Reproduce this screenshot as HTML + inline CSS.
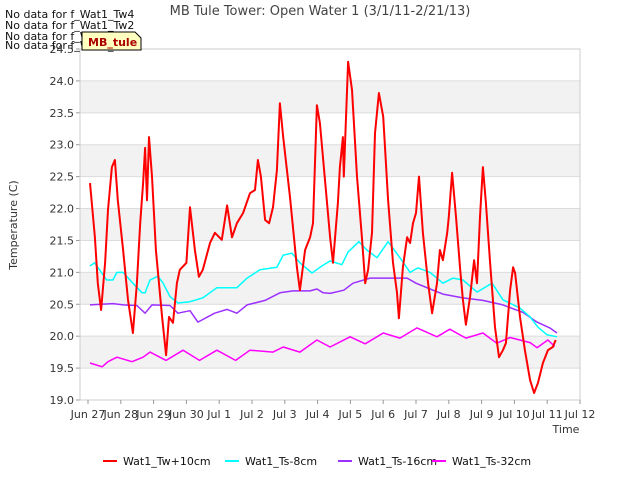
<!DOCTYPE html>
<html><head><meta charset="utf-8"><style>
body{margin:0;background:#fff;font-family:"Liberation Sans",sans-serif}
svg text{font-family:"DejaVu Sans","Liberation Sans",sans-serif}
</style></head><body>
<svg id="c" width="640" height="480" viewBox="0 0 640 480" xmlns="http://www.w3.org/2000/svg">
<g id="bands"></g><g id="grid"></g><g id="series"></g><g id="axes"></g>
<text x="320" y="15" text-anchor="middle" font-size="13" fill="#444">MB Tule Tower: Open Water 1 (3/1/11-2/21/13)</text>
<text x="566" y="433" text-anchor="middle" font-size="11" fill="#333">Time</text>
<text transform="translate(17,225) rotate(-90)" text-anchor="middle" font-size="11" fill="#333">Temperature (C)</text>
<g font-size="11" fill="#111">
<text x="5" y="18">No data for f_Wat1_Tw4</text>
<text x="5" y="29">No data for f_Wat1_Tw2</text>
<text x="5" y="40">No data for f_Wat1_Ts2</text>
<text x="5" y="49">No data for f_Wat1_Ts4</text>
</g>
<g>
<path d="M82,32 L135,32 L141,38 L141,50 L82,50 Z" fill="#ffffc0" stroke="#000" stroke-width="1"/>
<text x="88" y="46" font-size="11" font-weight="bold" fill="#aa0000">MB_tule</text>
</g>
<g id="legend" font-size="11" fill="#111"></g>
</svg>
<script>
const xTickLabels=["Jun 27","Jun 28","Jun 29","Jun 30","Jul 1","Jul 2","Jul 3","Jul 4","Jul 5","Jul 6","Jul 7","Jul 8","Jul 9","Jul 10","Jul 11","Jul 12"];
const yTicks=[19.0,19.5,20.0,20.5,21.0,21.5,22.0,22.5,23.0,23.5,24.0,24.5];
const seriesNames=["Wat1_Tw+10cm","Wat1_Ts-8cm","Wat1_Ts-16cm","Wat1_Ts-32cm"];
const twDays=[0.06,0.21,0.3,0.4,0.52,0.61,0.73,0.82,0.91,1.07,1.22,1.37,1.49,1.59,1.68,1.74,1.8,1.86,1.95,2.07,2.26,2.38,2.47,2.59,2.71,2.8,3.0,3.11,3.26,3.38,3.5,3.72,3.87,4.08,4.24,4.39,4.54,4.73,4.94,5.09,5.18,5.27,5.4,5.52,5.64,5.76,5.85,5.95,6.16,6.37,6.46,6.62,6.77,6.86,6.98,7.07,7.38,7.47,7.62,7.68,7.77,7.8,7.93,8.05,8.2,8.35,8.45,8.54,8.66,8.75,8.87,9.0,9.15,9.3,9.42,9.48,9.6,9.73,9.82,9.91,10.0,10.09,10.21,10.37,10.49,10.64,10.73,10.82,10.95,11.0,11.1,11.22,11.34,11.43,11.52,11.65,11.77,11.86,11.95,12.04,12.13,12.26,12.41,12.53,12.65,12.74,12.87,12.96,13.02,13.17,13.32,13.48,13.6,13.72,13.87,14.02,14.17,14.26];
const twVals=[22.4,21.55,20.83,20.41,21.15,21.98,22.65,22.76,22.13,21.35,20.57,20.05,20.83,21.77,22.4,22.95,22.13,23.12,22.5,21.35,20.3,19.7,20.3,20.21,20.83,21.04,21.15,22.02,21.35,20.93,21.04,21.46,21.62,21.51,22.05,21.55,21.77,21.93,22.24,22.29,22.76,22.5,21.82,21.77,22.02,22.6,23.65,23.12,22.18,21.08,20.72,21.35,21.55,21.77,23.62,23.34,21.55,21.15,22.09,22.65,23.12,22.5,24.3,23.86,22.5,21.55,20.83,21.04,21.62,23.18,23.81,23.44,22.13,21.15,20.68,20.28,21.08,21.55,21.46,21.77,21.93,22.5,21.62,20.83,20.36,20.83,21.35,21.19,21.62,21.87,22.56,21.87,21.08,20.57,20.18,20.62,21.19,20.83,21.87,22.65,22.09,21.15,20.14,19.67,19.78,19.89,20.72,21.08,20.99,20.3,19.78,19.31,19.11,19.27,19.58,19.78,19.83,19.94];
const s8Days=[0.06,0.2,0.57,0.76,0.88,1.07,1.37,1.65,1.74,1.89,2.13,2.29,2.5,2.74,3.11,3.5,3.93,4.24,4.54,4.85,5.24,5.76,5.95,6.22,6.46,6.83,7.07,7.38,7.74,7.93,8.26,8.5,8.81,9.15,9.51,9.82,10.06,10.43,10.82,11.13,11.43,11.86,12.32,12.65,13.17,13.48,13.72,14.0,14.3];
const s8Vals=[21.1,21.15,20.88,20.88,21.0,21.0,20.83,20.68,20.68,20.88,20.94,20.83,20.62,20.52,20.54,20.6,20.76,20.76,20.76,20.91,21.04,21.08,21.27,21.3,21.15,20.99,21.08,21.18,21.12,21.32,21.48,21.35,21.23,21.48,21.23,21.0,21.07,21.0,20.83,20.91,20.88,20.69,20.83,20.57,20.44,20.3,20.14,20.02,19.99];
const s16Days=[0.06,0.76,1.07,1.49,1.74,1.95,2.5,2.74,3.11,3.35,3.86,4.24,4.54,4.85,5.4,5.85,6.25,6.77,6.98,7.17,7.38,7.8,8.08,8.6,9.3,9.73,10.0,10.43,10.82,11.43,12.04,12.65,13.27,13.69,14.08,14.3];
const s16Vals=[20.49,20.51,20.49,20.48,20.36,20.49,20.48,20.36,20.4,20.22,20.36,20.42,20.36,20.49,20.56,20.68,20.71,20.71,20.74,20.68,20.67,20.72,20.83,20.91,20.91,20.91,20.83,20.74,20.66,20.6,20.56,20.49,20.37,20.22,20.13,20.05];
const s32Days=[0.06,0.43,0.61,0.88,1.34,1.68,1.89,2.38,2.9,3.4,3.93,4.5,4.94,5.64,5.95,6.46,6.98,7.38,7.99,8.45,9.0,9.51,10.03,10.64,11.03,11.52,12.04,12.46,12.87,13.48,13.69,14.02,14.23];
const s32Vals=[19.58,19.52,19.6,19.67,19.6,19.67,19.75,19.62,19.78,19.62,19.78,19.62,19.78,19.75,19.83,19.75,19.94,19.83,19.99,19.88,20.05,19.97,20.13,19.99,20.11,19.97,20.05,19.89,19.98,19.9,19.82,19.94,19.84];

const NS="http://www.w3.org/2000/svg";
const L=80,R=580,T=49,B=400,X0=88,PXD=32.8;
const xs=d=>X0+d*PXD;
const ys=v=>B-(v-19)*(B-T)/5.5;
function mk(tag,attrs,parent){const e=document.createElementNS(NS,tag);for(const k in attrs)e.setAttribute(k,attrs[k]);parent.appendChild(e);return e;}
const bands=document.getElementById('bands'),grid=document.getElementById('grid'),ser=document.getElementById('series'),axes=document.getElementById('axes'),leg=document.getElementById('legend');
for(let i=0;i<yTicks.length-1;i++){
  if(i%2===1){const r=mk('rect',{x:L,y:ys(yTicks[i+1]),width:R-L,height:ys(yTicks[i])-ys(yTicks[i+1]),fill:'#f2f2f2'},bands);
  
  }
}
yTicks.forEach(v=>{
  const g=mk('line',{x1:L,x2:R,y1:ys(v),y2:ys(v),stroke:'#dcdcdc','stroke-width':1},grid);
  
  
  const tk=mk('line',{x1:L-4,x2:L,y1:ys(v),y2:ys(v),stroke:'#999'},axes);
  
  
  const t=mk('text',{x:L-6,y:ys(v)+4,'text-anchor':'end','font-size':11,fill:'#333'},axes);
  t.textContent=v.toFixed(1);
  
  
});
const fr=mk('rect',{x:L,y:T,width:R-L,height:B-T,fill:'none',stroke:'#ccc'},axes);


xTickLabels.forEach((s,i)=>{
  const tk=mk('line',{x1:xs(i),x2:xs(i),y1:B,y2:B+4,stroke:'#999'},axes);
  
  
  const t=mk('text',{x:xs(i),y:B+18,'text-anchor':'middle','font-size':11,fill:'#333'},axes);
  t.textContent=s;
  
  
});
const colors=['#ff0000','#00ffff','#9b30ff','#ff00ff'];
const data=[[twDays,twVals],[s8Days,s8Vals],[s16Days,s16Vals],[s32Days,s32Vals]];
const names=['series-tw-10cm','series-ts-8cm','series-ts-16cm','series-ts-32cm'];
for(let k=3;k>=0;k--){
  const [d,v]=data[k];
  const p=mk('polyline',{points:d.map((x,i)=>xs(x).toFixed(1)+','+ys(v[i]).toFixed(1)).join(' '),fill:'none',stroke:colors[k],'stroke-width':k===0?2:1.5,'stroke-linejoin':'round'},ser);
  
  
}
const lx=[103,225,338,432];
seriesNames.forEach((n,k)=>{
  const l=mk('line',{x1:lx[k],x2:lx[k]+14,y1:461,y2:461,stroke:colors[k],'stroke-width':2},leg);
  
  
  const t=mk('text',{x:lx[k]+20,y:465,'font-size':11,fill:'#111'},leg);
  t.textContent=n;
  
  
});
</script>
</body></html>
